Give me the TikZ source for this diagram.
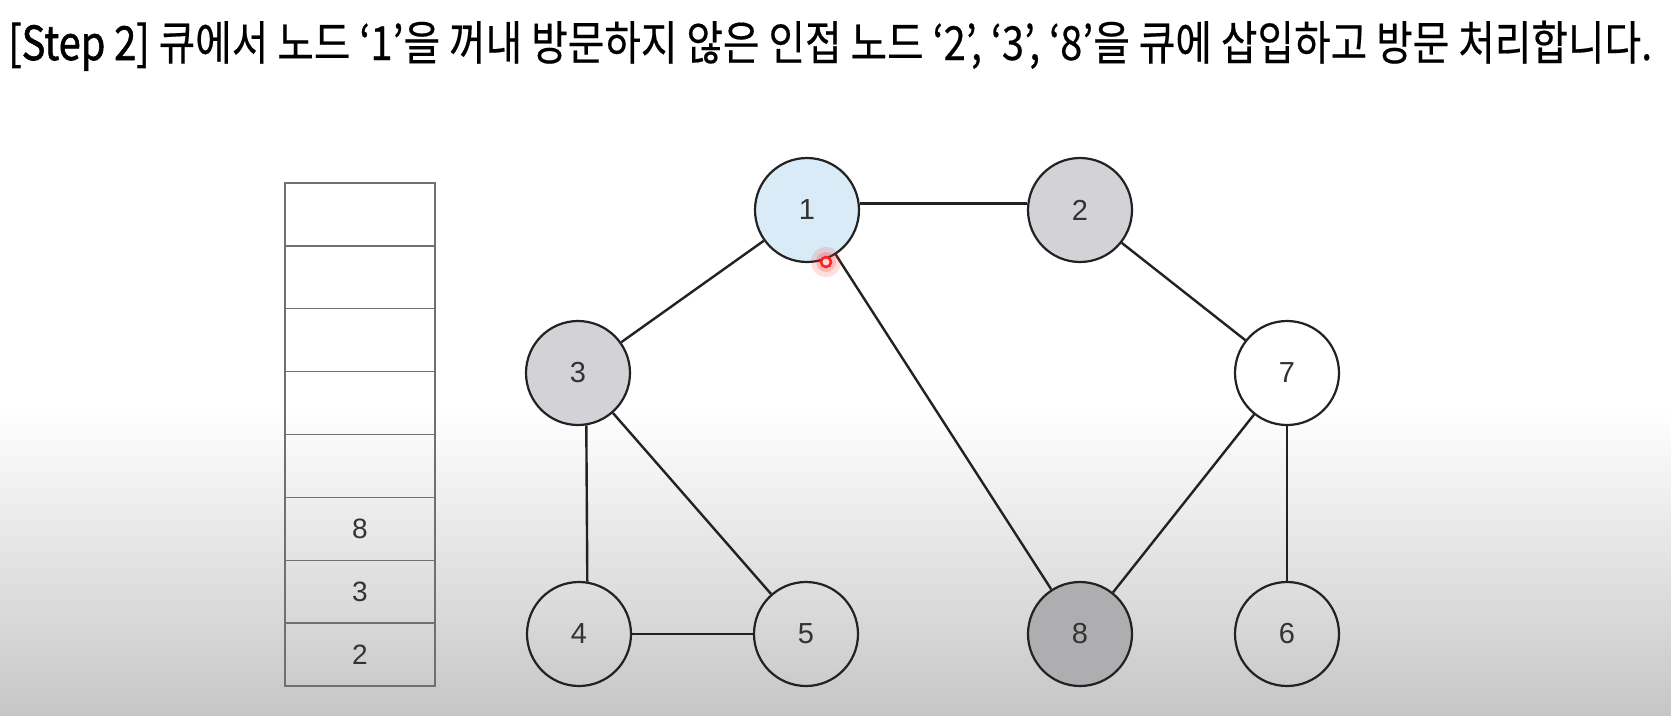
\documentclass[tikz,border=0pt]{standalone}
\usepackage{fontspec}
\usepackage{graphicx}
\newfontfamily\krfont{Noto Sans CJK KR}[FakeBold=0.4]
\newfontfamily\krbold{Noto Sans CJK KR}[FakeBold=1.4]
\setmainfont{Liberation Sans}
\usetikzlibrary{calc}
\definecolor{visitblue}{HTML}{D9EBF7}
\definecolor{visitgray}{HTML}{D3D3D7}
\definecolor{dgray}{HTML}{AEAEB1}
\definecolor{bggray}{HTML}{C6C6C6}
\definecolor{ink}{HTML}{222222}
\definecolor{numc}{HTML}{333333}
\definecolor{qline}{HTML}{707070}
\definecolor{cursorred}{HTML}{FF2222}
\tikzset{
  gnode/.style={circle, draw=ink, line width=2.2pt, minimum size=104pt, inner sep=0pt,
    font=\fontsize{29}{29}\selectfont, text=numc},
  edge/.style={draw=ink, line width=2.4pt},
  qcell/.style={rectangle, draw=qline, line width=1.3pt, minimum width=150pt, minimum height=62.9pt,
    inner sep=0pt, font=\fontsize{27}{27}\selectfont, text=numc},
  qlabel/.style={font=\fontsize{28}{28}\selectfont, text=numc},
}
\begin{document}
\begin{tikzpicture}[x=1pt,y=-1pt]
\path[use as bounding box, fill=white] (0,0) rectangle (1671,715);
\shade[top color=white, bottom color=bggray] (0,410) rectangle (1671,715);

% title
\node[anchor=base west, inner sep=0pt] (title) at (8,60)
  {\resizebox{1644pt}{\height}{\fontsize{47}{47}\selectfont\krbold [Step 2]\krfont{} 큐에서 노드 ‘1’을 꺼내 방문하지 않은 인접 노드 ‘2’, ‘3’, ‘8’을 큐에 삽입하고 방문 처리합니다.}};

% queue
\foreach \i in {1,...,8} {
  \node[qcell] (q\i) at (360,{183+62.875*(\i-0.5)}) {};
}
\node[qlabel] (q6l) at (q6) {8};
\node[qlabel] (q7l) at (q7) {3};
\node[qlabel] (q8l) at (q8) {2};

% graph nodes
\node[gnode, fill=visitblue] (n1) at (807,210) {1};
\node[gnode, fill=visitgray] (n2) at (1080,210) {2};
\node[gnode, fill=visitgray] (n3) at (578,373) {3};
\node[gnode, fill=white] (n7) at (1287,373) {7};
\node[gnode] (n4) at (579,634) {4};
\node[gnode] (n5) at (806,634) {5};
\node[gnode, fill=dgray] (n8) at (1080,634) {8};
\node[gnode] (n6) at (1287,634) {6};

% edges
\draw[edge] (n1.7) -- (n2.173);
\draw[edge] (n1) -- (n3);
\draw[edge] (n1) -- (n8);
\draw[edge] (n2) -- (n7);
\draw[edge] (n3.-81) -- (n4.81);
\draw[edge] (n3) -- (n5);
\draw[edge] (n4) -- (n5);
\draw[edge] (n7) -- (n8);
\draw[edge] (n7) -- (n6);

% cursor marker
\coordinate (cur) at (826,262);
\fill[cursorred, opacity=0.15] (cur) circle (15pt);
\fill[cursorred, opacity=0.2] (cur) circle (10pt);
\draw[cursorred, line width=2.6pt, fill=red!15] (cur) circle (5pt);
\end{tikzpicture}
\end{document}
